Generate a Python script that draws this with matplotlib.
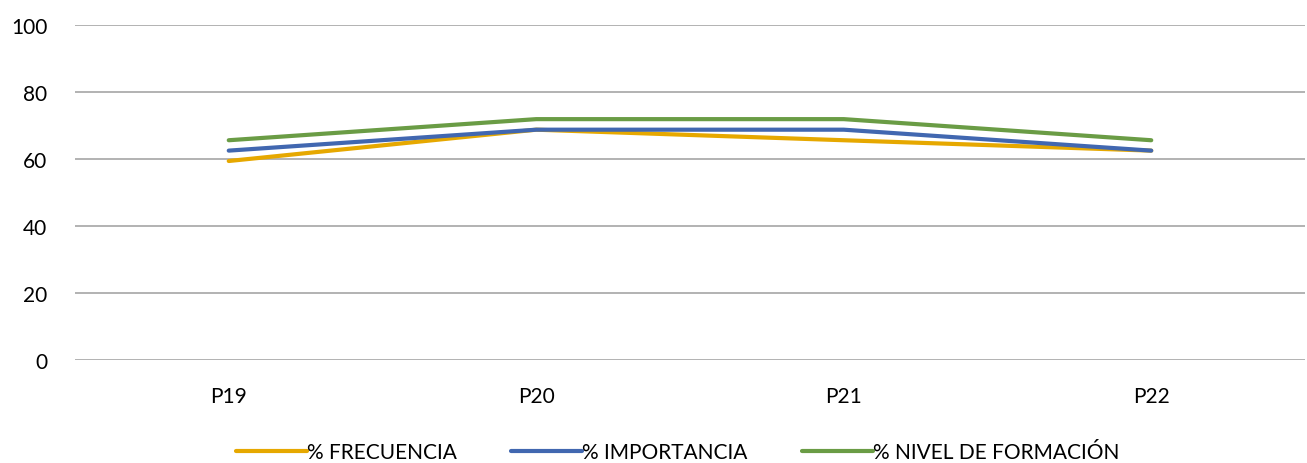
import matplotlib.pyplot as plt
import numpy as np

categories = ["P19", "P20", "P21", "P22"]
frecuencia = [59.4, 68.75, 65.6, 62.5]
importancia = [62.5, 68.75, 68.75, 62.5]
nivel_formacion = [65.6, 71.9, 71.9, 65.6]

plt.rcParams['font.family'] = ['Lato', 'DejaVu Sans']

fig = plt.figure(figsize=(13.07, 4.64), dpi=100)
ax = fig.add_axes([75 / 1307, 103 / 464, 1230 / 1307, 335 / 464])

x = np.arange(len(categories))
ax.plot(x, frecuencia, color="#E6A800", lw=3, label="% FRECUENCIA", solid_capstyle="round")
ax.plot(x, importancia, color="#4167B0", lw=3, label="% IMPORTANCIA", solid_capstyle="round")
ax.plot(x, nivel_formacion, color="#6A9C45", lw=3, label="% NIVEL DE FORMACIÓN", solid_capstyle="round")

ax.set_xlim(-0.5, len(categories) - 0.5)
ax.set_ylim(0, 100)
ax.set_yticks(range(0, 101, 20))
ax.set_xticks(x)
ax.set_xticklabels(categories)
ax.grid(axis="y", color="#A6A6A6", lw=1.2)
ax.set_axisbelow(True)
for s in ax.spines.values():
    s.set_visible(False)
ax.tick_params(axis="both", length=0, labelsize=15, colors="black")
ax.tick_params(axis="y", pad=20)
ax.tick_params(axis="x", pad=19)

ax.legend(loc="center", bbox_to_anchor=(0.49, -0.275), ncol=3, frameon=False,
          fontsize=15, handlelength=3.4, handletextpad=0.0, columnspacing=2.6)

fig.savefig("out.png", dpi=100)
